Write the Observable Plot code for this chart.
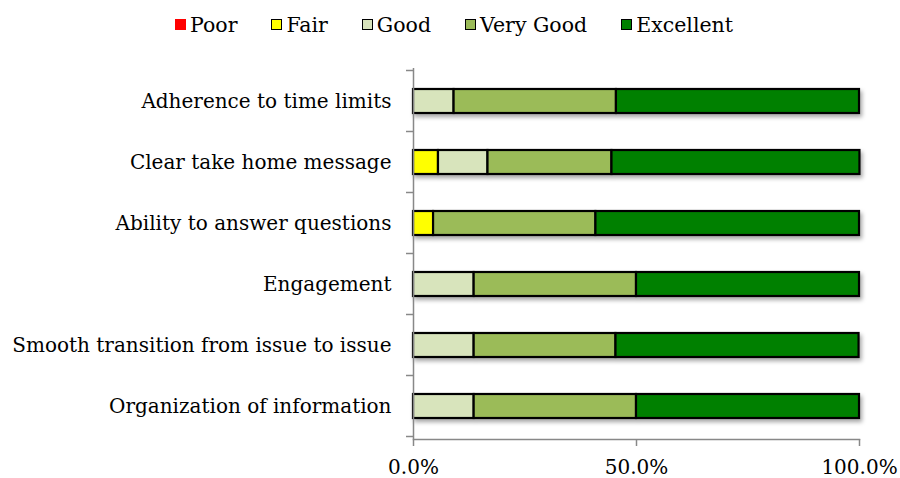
<!DOCTYPE html>
<html><head><meta charset="utf-8">
<script src="https://cdn.jsdelivr.net/npm/d3@7"></script>
<script src="https://cdn.jsdelivr.net/npm/@observablehq/plot@0.6"></script>
<style>
body{margin:0;background:#fff;font-family:"DejaVu Serif",serif;width:900px;height:478px;overflow:hidden;}
#legend{height:46px;display:flex;justify-content:center;align-items:center;gap:34px;padding-left:8px;padding-top:3px;box-sizing:border-box;font-size:20.5px;color:#000;}
.item{display:flex;align-items:center;gap:4px;}
.sw{width:9px;height:9px;border:1.5px solid #000;}
.sw.noborder{border:none;width:11px;height:11px;}
#chart svg{display:block;font-family:"DejaVu Serif",serif;}
</style></head><body>
<div id="legend"></div><div id="chart"></div>
<script>
const categories = ["Adherence to time limits","Clear take home message","Ability to answer questions","Engagement","Smooth transition from issue to issue","Organization of information"];
const ratings = ["Poor","Fair","Good","Very Good","Excellent"];
const colors = ["#FF0000","#FFFF00","#D8E4BC","#9BBB59","#008000"];
const poor = [0,0,0,0,0,0];
const fair = [0,5.6,4.5,0,0,0];
const good = [9.1,11.1,0,13.6,13.6,13.6];
const veryGood = [36.4,27.8,36.4,36.4,31.8,36.4];
const excellent = [54.5,55.6,59.1,50,54.5,50];
const xTicks = [0,50,100];

const series = [poor,fair,good,veryGood,excellent];
const data = [];
categories.forEach((c,i)=>ratings.forEach((r,j)=>{ if(series[j][i]>0) data.push({category:c,rating:r,value:series[j][i]}); }));

// legend
const leg = document.getElementById("legend");
ratings.forEach((r,j)=>{
  const it=document.createElement("div");it.className="item";
  const sw=document.createElement("div");sw.className="sw"+(j===0?" noborder":"");sw.style.background=colors[j];
  const t=document.createElement("span");t.textContent=r;
  it.appendChild(sw);it.appendChild(t);leg.appendChild(it);
});

const PI = 0.61;
function bandTicks(index, scales, values, dimensions){
  const y = scales.y, x = scales.x;
  const step = y.step(), bw = y.bandwidth();
  const g = d3.create("svg:g");
  const x0 = x(0);
  const ys = categories.map(c=>y(c) - (step-bw)/2);
  ys.push(y(categories[categories.length-1]) + bw + (step-bw)/2);
  ys.forEach(v=>g.append("line").attr("x1",x0-7).attr("x2",x0).attr("y1",v).attr("y2",v).attr("stroke","#888").attr("stroke-width",1.5));
  return g.node();
}

const plot = Plot.plot({
  width: 900, height: 432,
  marginTop: 22, marginBottom: 39, marginLeft: 413, marginRight: 41,
  style: {fontFamily:"DejaVu Serif, serif", fontSize:"20px", color:"#000", background:"#fff"},
  x: {domain:[0,100]},
  y: {domain: categories, paddingInner: PI, paddingOuter: PI/2},
  color: {domain: ratings, range: colors},
  marks: [
    Plot.barX(data, Plot.stackX({x:"value", y:"category", fill:"rating", order: ratings, stroke:"#000", strokeWidth:2.2})),
    Plot.ruleX([0], {stroke:"#888", strokeWidth:1.5}),
    Plot.frame({anchor:"bottom", stroke:"#888", strokeWidth:1.5}),
    bandTicks,
    Plot.axisY({tickSize:0, tickPadding:22, fontSize:20, label:null}),
    Plot.axisX({ticks:xTicks, tickFormat:d=>d.toFixed(1)+"%", tickSize:7, tickPadding:13, fontSize:20, label:null, stroke:"#888", strokeWidth:1.5})
  ]
});
document.getElementById("chart").appendChild(plot);
const svg = d3.select(plot);
const defs = svg.insert("defs",":first-child");
const f = defs.append("filter").attr("id","sh").attr("x","-5%").attr("y","-30%").attr("width","115%").attr("height","180%");
f.append("feDropShadow").attr("dx",2).attr("dy",3).attr("stdDeviation",2).attr("flood-color","#000").attr("flood-opacity",0.35);
svg.selectAll('g[aria-label="bar"]').attr("filter","url(#sh)");
svg.selectAll('g[aria-label="x-axis text"] text, g[aria-label="y-axis text"] text').attr("fill","#000");
</script>
</body></html>
